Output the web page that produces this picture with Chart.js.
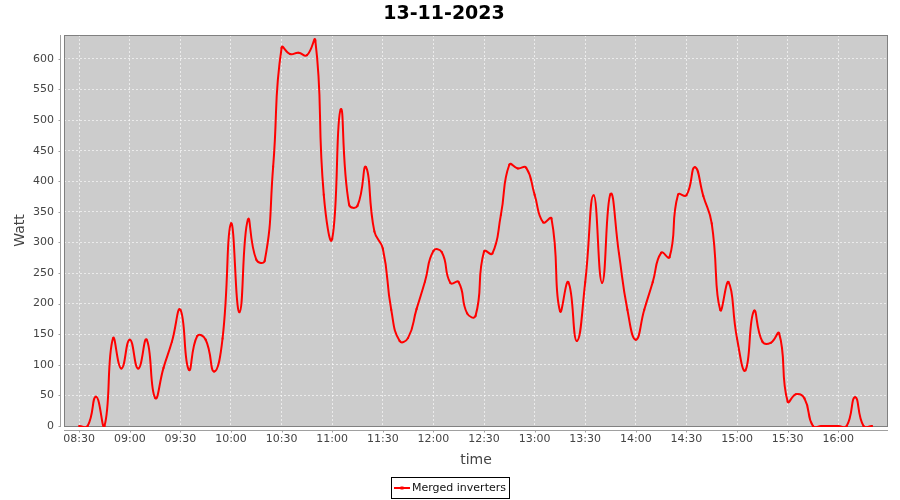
<!DOCTYPE html>
<html>
<head>
<meta charset="utf-8">
<script src="https://cdn.jsdelivr.net/npm/chart.js@4.4.0/dist/chart.umd.min.js"></script>
<style>
html, body { margin: 0; padding: 0; background: #ffffff; }
#wrap { width: 900px; height: 500px; }
</style>
</head>
<body>
<div id="wrap"><canvas id="c" width="900" height="500"></canvas></div>
<script>
// ---- data ----
const chartTitle = "13-11-2023";
const seriesName = "Merged inverters";
const xAxisTitle = "time";
const yAxisTitle = "Watt";

const times = [
  "08:30","08:35","08:40","08:45","08:50","08:55",
  "09:00","09:05","09:10","09:15","09:20","09:25",
  "09:30","09:35","09:40","09:45","09:50","09:55",
  "10:00","10:05","10:10","10:15","10:20","10:25",
  "10:30","10:35","10:40","10:45","10:50","10:55",
  "11:00","11:05","11:10","11:15","11:20","11:25",
  "11:30","11:35","11:40","11:45","11:50","11:55",
  "12:00","12:05","12:10","12:15","12:20","12:25",
  "12:30","12:35","12:40","12:45","12:50","12:55",
  "13:00","13:05","13:10","13:15","13:20","13:25",
  "13:30","13:35","13:40","13:45","13:50","13:55",
  "14:00","14:05","14:10","14:15","14:20","14:25",
  "14:30","14:35","14:40","14:45","14:50","14:55",
  "15:00","15:05","15:10","15:15","15:20","15:25",
  "15:30","15:35","15:40","15:45","15:50","15:55",
  "16:00","16:05","16:10","16:15","16:20"
];

const watts = [
  0, 0, 48, 0, 143, 94,
  141, 94, 141, 46, 95, 138,
  190, 92, 147, 141, 89, 143,
  331, 186, 337, 272, 270, 424,
  618, 608, 610, 606, 630, 378,
  306, 517, 362, 360, 423, 318,
  290, 190, 139, 144, 191, 236,
  286, 284, 234, 235, 184, 180,
  285, 282, 345, 427, 421, 422,
  378, 333, 339, 188, 235, 139,
  235, 377, 234, 379, 282, 190,
  141, 190, 235, 283, 276, 378,
  377, 423, 376, 331, 190, 235,
  143, 91, 188, 138, 136, 151,
  40, 52, 45, 0, 0, 0,
  0, 0, 47, 0, 0
];

const xTickLabels = ["08:30","09:00","09:30","10:00","10:30","11:00","11:30","12:00",
                     "12:30","13:00","13:30","14:00","14:30","15:00","15:30","16:00"];
const yTicks = [0, 50, 100, 150, 200, 250, 300, 350, 400, 450, 500, 550, 600];

// ---- helpers ----
const BASE = 8 * 60 + 30;
function toMin(t) { const p = t.split(':').map(Number); return p[0] * 60 + p[1] - BASE; }
function fmt(v) {
  const m = Math.round(v) + BASE;
  const h = Math.floor(m / 60), mm = m % 60;
  return String(h).padStart(2, '0') + ':' + String(mm).padStart(2, '0');
}
const points = times.map((t, i) => ({ x: toMin(t), y: watts[i] }));
const xTickValues = xTickLabels.map(toMin);

const FONT = "'DejaVu Sans', sans-serif";

const decor = {
  id: 'decor',
  beforeDraw(chart) {
    const { ctx, chartArea: a } = chart;
    ctx.save();
    ctx.fillStyle = '#ffffff';
    ctx.fillRect(0, 0, chart.width, chart.height);
    ctx.fillStyle = '#cccccc';
    ctx.fillRect(a.left, a.top, a.right - a.left, a.bottom - a.top);
    ctx.restore();
  },
  beforeDatasetsDraw(chart) {
    const { ctx, chartArea: a, scales } = chart;
    ctx.save();
    ctx.strokeStyle = '#808080';
    ctx.lineWidth = 1;
    ctx.strokeRect(a.left + 0.5, a.top + 0.5, a.right - a.left - 1, a.bottom - a.top);
    ctx.strokeStyle = '#a0a0a0';
    const ax = a.left - 3.5;
    ctx.beginPath();
    ctx.moveTo(ax, a.top); ctx.lineTo(ax, a.bottom + 1);
    scales.y.ticks.forEach(t => {
      const py = Math.round(scales.y.getPixelForValue(t.value)) + 0.5;
      ctx.moveTo(ax - 2, py); ctx.lineTo(ax, py);
    });
    const ay = a.bottom + 4.5;
    ctx.moveTo(a.left, ay); ctx.lineTo(a.right, ay);
    scales.x.ticks.forEach(t => {
      const px = Math.round(scales.x.getPixelForValue(t.value)) + 0.5;
      ctx.moveTo(px, ay); ctx.lineTo(px, ay + 2);
    });
    ctx.stroke();
    ctx.restore();
  },
  afterDraw(chart) {
    const { ctx } = chart;
    const label = chart.data.datasets[0].label;
    ctx.save();
    ctx.font = "11px " + FONT;
    const tw = ctx.measureText(label).width;
    const symW = 16, gap = 2, pad = 3;
    const w = pad + symW + gap + tw + pad;
    const h = 21;
    const x0 = Math.round(450 - w / 2);
    const y0 = 477;
    ctx.strokeStyle = '#000000';
    ctx.lineWidth = 1;
    ctx.strokeRect(x0 + 0.5, y0 + 0.5, Math.round(w), h);
    const cy = y0 + 11;
    ctx.strokeStyle = '#ff0000';
    ctx.lineWidth = 2;
    ctx.beginPath();
    ctx.moveTo(x0 + pad, cy); ctx.lineTo(x0 + pad + symW, cy);
    ctx.stroke();
    ctx.fillStyle = '#ff0000';
    ctx.fillRect(x0 + pad + symW / 2 - 1.5, cy - 1.5, 3, 3);
    ctx.fillStyle = '#111111';
    ctx.textBaseline = 'middle';
    ctx.textAlign = 'left';
    ctx.fillText(label, x0 + pad + symW + gap, cy + 0.5);
    ctx.restore();
  }
};

new Chart(document.getElementById('c'), {
  type: 'line',
  data: {
    datasets: [{
      label: seriesName,
      data: points,
      borderColor: '#ff0000',
      backgroundColor: '#ff0000',
      borderWidth: 2,
      tension: 0.5,
      pointRadius: 1.3,
      pointStyle: 'rect',
      pointBorderWidth: 0,
      pointBackgroundColor: '#ff0000',
      fill: false,
      clip: { left: 0, top: 0, right: 0, bottom: 1 }
    }]
  },
  options: {
    responsive: false,
    animation: false,
    devicePixelRatio: 1,
    layout: { padding: { left: 0, right: 12, top: 0, bottom: 23 } },
    elements: { line: { capBezierPoints: false } },
    plugins: {
      legend: { display: false },
      tooltip: { enabled: false },
      title: {
        display: true,
        text: chartTitle,
        color: '#000000',
        font: { family: FONT, size: 19, weight: 'bold' },
        padding: { top: 3, bottom: 9.2 }
      }
    },
    scales: {
      x: {
        type: 'linear',
        min: -9,
        max: 479.5,
        afterBuildTicks(scale) { scale.ticks = xTickValues.map(v => ({ value: v })); },
        afterFit(scale) { scale.height = 51; },
        ticks: {
          autoSkip: false, maxRotation: 0, padding: 7,
          color: '#444444', font: { family: FONT, size: 11 },
          callback: (v) => fmt(v)
        },
        grid: { drawTicks: false, color: 'rgba(255,255,255,0.6)', lineWidth: 1 },
        border: { display: false, dash: [2, 2] },
        title: {
          display: true, text: xAxisTitle, color: '#444444',
          font: { family: FONT, size: 14 },
          padding: { top: 4, bottom: 8.6 }
        }
      },
      y: {
        type: 'linear',
        min: 0,
        max: 639,
        afterBuildTicks(scale) { scale.ticks = yTicks.map(v => ({ value: v })); },
        afterFit(scale) { scale.width = 64; },
        ticks: {
          padding: 10, color: '#444444', font: { family: FONT, size: 11 },
          callback: (v) => String(v)
        },
        grid: { drawTicks: false, color: 'rgba(255,255,255,0.6)', lineWidth: 1 },
        border: { display: false, dash: [2, 2] },
        title: {
          display: true, text: yAxisTitle, color: '#444444',
          font: { family: FONT, size: 14 },
          padding: { top: 12, bottom: 0 }
        }
      }
    }
  },
  plugins: [decor]
});
</script>
</body>
</html>
